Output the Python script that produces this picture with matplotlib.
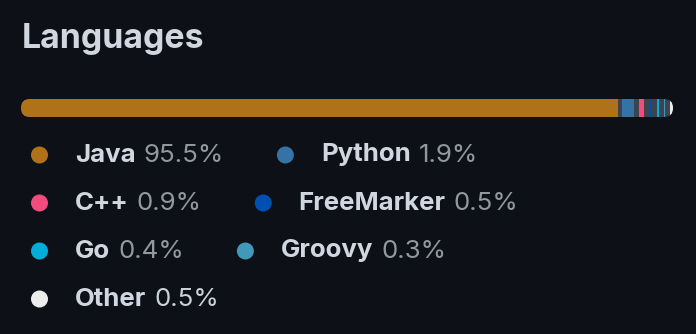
import matplotlib
matplotlib.use('Agg')
import matplotlib.pyplot as plt
from matplotlib.patches import FancyBboxPatch, Rectangle, Circle

languages = ['Java', 'Python', 'C++', 'FreeMarker', 'Go', 'Groovy', 'Other']
percents = [95.5, 1.9, 0.9, 0.5, 0.4, 0.3, 0.5]
colors = ['#b07219', '#3572a5', '#f34b7d', '#0050b2', '#00add8', '#4298b8', '#ededed']

bg = '#0d1117'
plt.rcParams['font.family'] = ['Inter', 'DejaVu Sans']

fig = plt.figure(figsize=(6.96, 3.34), dpi=100, facecolor=bg)
ax = fig.add_axes([0, 0, 1, 1])
ax.set_xlim(0, 696)
ax.set_ylim(334, 0)
ax.axis('off')
ax.set_facecolor(bg)

ax.text(22, 39, 'Languages', color='#d1d7e0', fontsize=24.4, fontweight='bold', va='center', ha='left')

# stacked bar
x0, x1, ytop, h = 21, 673, 99, 18
gap = 4.5
clip = FancyBboxPatch((x0, ytop), x1 - x0, h, boxstyle='round,pad=0,rounding_size=9',
                      facecolor='#3d444d', edgecolor='none')
ax.add_patch(clip)
avail = (x1 - x0) - gap * (len(percents) - 1)
x = x0
for p, c in zip(percents, colors):
    w = avail * p / sum(percents)
    r = Rectangle((x, ytop), w, h, facecolor=c, edgecolor='none')
    ax.add_patch(r)
    r.set_clip_path(clip)
    x += w + gap

# legend, flowing layout
renderer = fig.canvas.get_renderer()
left, right = 31, 676
row_y, row_h = 155, 48
item_gap = 53
x = left
y = row_y
for i, (name, p, c) in enumerate(zip(languages, percents, colors)):
    pct_color = '#c9d1d9' if name == 'Other' else '#9198a1'
    tn = ax.text(0, y, name, color='#d1d7e0', fontsize=18.6, fontweight='bold', va='center', ha='left')
    tp = ax.text(0, y, f'{p}%', color=pct_color, fontsize=18.7, va='center', ha='left')
    wn = tn.get_window_extent(renderer).width
    wp = tp.get_window_extent(renderer).width
    total = 44 + wn + 8 + wp
    if x > left and x + total > right:
        x = left
        y += row_h
        tn.set_y(y)
        tp.set_y(y)
    ax.add_patch(Circle((x + 8.5, y), 8.5, facecolor=c, edgecolor='none'))
    tn.set_x(x + 44)
    tp.set_x(x + 44 + wn + 8)
    x += total + item_gap

fig.savefig('out.png', dpi=100, facecolor=bg)
